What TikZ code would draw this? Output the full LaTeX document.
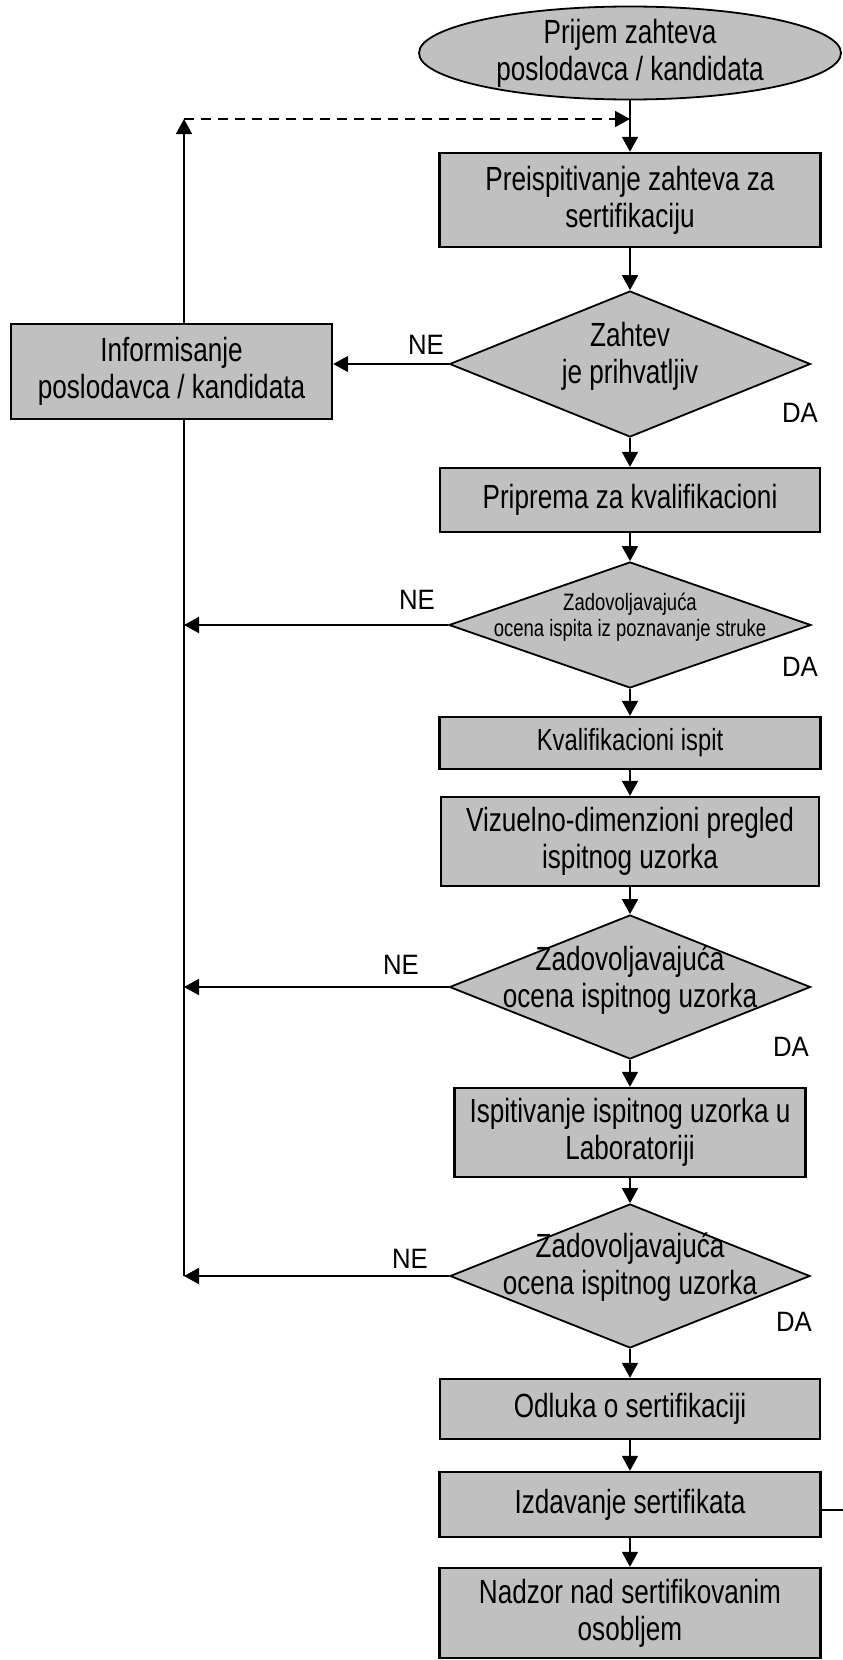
\documentclass[tikz,border=0pt]{standalone}
\usepackage{fontspec}
\setmainfont{Liberation Sans}[FakeStretch=0.78]
\newfontfamily\lblfont{Liberation Sans}[FakeStretch=0.92]
\usepackage{tikz}
\usetikzlibrary{arrows.meta, shapes.geometric}
\definecolor{boxgray}{RGB}{192,192,192}
\tikzset{every picture/.style={x=1pt,y=-1pt,>={Triangle[length=15pt,width=16pt]}},
  block/.style={rectangle, draw=black, fill=boxgray, line width=2.4pt, align=center, inner sep=0pt, font=\fontsize{33.5}{37}\selectfont},
  decision/.style={diamond, draw=black, fill=boxgray, line width=1.8pt, inner sep=0pt},
  startstop/.style={ellipse, draw=black, fill=boxgray, line width=1.8pt, inner sep=0pt},
  txt/.style={align=center, inner sep=0pt, font=\fontsize{33.5}{37}\selectfont},
  yesno/.style={inner sep=0pt, font=\lblfont\fontsize{28}{30}\selectfont},
  flow/.style={line width=1.8pt}}

\begin{document}
\begin{tikzpicture}
        \useasboundingbox (0,0) rectangle (843,1660);

        % main column
        \node[startstop, minimum width=422pt, minimum height=93pt] (start) at (630,53) {};
        \node[txt] (starttxt) at (start) {Prijem zahteva\\poslodavca / kandidata};
        \node[block, minimum width=381pt, minimum height=94pt] (prei) at (630,200) {Preispitivanje zahteva za\\sertifikaciju};
        \node[decision, minimum width=361pt, minimum height=146pt] (d1) at (630,364) {};
        \node[txt] (d1txt) at ([yshift=8pt]d1.center) {Zahtev\\je prihvatljiv};
        \node[block, minimum width=380pt, minimum height=64pt] (prip) at (630,500) {Priprema za kvalifikacioni};
        \node[decision, minimum width=362pt, minimum height=126pt] (d2) at (630,625) {};
        \node[txt, font=\fontsize{23.7}{26}\selectfont] (d2txt) at ([yshift=8pt]d2.center) {Zadovoljavajuća\\ocena ispita iz poznavanje struke};
        \node[block, font=\fontsize{30.5}{34}\selectfont, minimum width=381pt, minimum height=52pt] (kval) at (630,743) {Kvalifikacioni ispit};
        \node[block, minimum width=378pt, minimum height=89pt] (viz) at (630,841.5) {Vizuelno-dimenzioni pregled\\ispitnog uzorka};
        \node[decision, minimum width=361pt, minimum height=144pt] (d3) at (630,987) {};
        \node[txt] (d3txt) at ([yshift=7pt]d3.center) {Zadovoljavajuća\\ocena ispitnog uzorka};
        \node[block, minimum width=351pt, minimum height=89pt] (isp) at (630,1132.5) {Ispitivanje ispitnog uzorka u\\Laboratoriji};
        \node[decision, minimum width=360pt, minimum height=144pt] (d4) at (630,1276) {};
        \node[txt] (d4txt) at ([yshift=9pt]d4.center) {Zadovoljavajuća\\ocena ispitnog uzorka};
        \node[block, minimum width=380pt, minimum height=60pt] (odl) at (630,1409) {Odluka o sertifikaciji};
        \node[block, minimum width=381pt, minimum height=65pt] (izd) at (630,1504.5) {Izdavanje sertifikata};
        \node[block, minimum width=381pt, minimum height=90pt] (nad) at (630,1613) {Nadzor nad sertifikovanim\\osobljem};

        % left side
        \node[block, minimum width=321pt, minimum height=95pt] (info) at (171.5,371.5) {Informisanje\\poslodavca / kandidata};
        \coordinate (lft) at (184,119);
        \coordinate (izdout) at (843,1510);

        % answers
        \node[yesno] (ne1) at (426,345) {NE};
        \node[yesno] (da1) at (800,413) {DA};
        \node[yesno] (ne2) at (417,600) {NE};
        \node[yesno] (da2) at (800,667) {DA};
        \node[yesno] (ne3) at (401,965) {NE};
        \node[yesno] (da3) at (791,1047) {DA};
        \node[yesno] (ne4) at (410,1259) {NE};
        \node[yesno] (da4) at (794,1322) {DA};

        \foreach \from/\to in {
          start/prei, prei/d1, d1/prip,
          prip/d2, d2/kval, kval/viz,
          viz/d3, d3/isp, isp/d4,
          d4/odl, odl/izd, izd/nad}
        \draw[flow,->] (\from) -- (\to);

        \draw[flow,->] (d1.west) -- (d1.west -| info.east);
        \foreach \d in {d2, d3, d4}
        \draw[flow,->] (\d.west) -- (\d.west -| lft);
        \draw[flow] (info.south -| lft) -- (d4.west -| lft);
        \draw[flow,->] (info.north -| lft) -- (lft);
        \draw[flow, dash pattern=on 10pt off 7pt, ->] (lft) -- (lft -| start.south);
        \draw[flow] (izd.east |- izdout) -- (izdout);
      \end{tikzpicture}
\end{document}
